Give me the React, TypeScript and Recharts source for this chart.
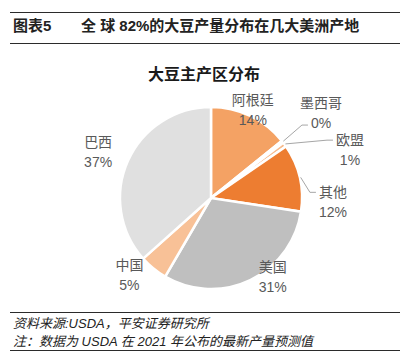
import React from 'react';
import { PieChart, Pie, Cell } from 'recharts';

const regions = ['阿根廷', '墨西哥', '欧盟', '其他', '美国', '中国', '巴西'];
const shares = [14.2, 0.4, 0.8, 12.0, 31.0, 5.0, 36.6];
const sliceColors = ['#F4A264', '#FADBC4', '#F7B98A', '#ED7D31', '#BFBFBF', '#F8C197', '#E0E0E0'];

const headerLabel = '图表5';
const headerTitle = '全 球 82%的大豆产量分布在几大美洲产地';
const chartTitle = '大豆主产区分布';
const sourceNote = '资料来源:USDA，平安证券研究所';
const footNote = '注：数据为 USDA 在 2021 年公布的最新产量预测值';

const data = regions.map((name, i) => ({ name, value: shares[i] }));

// label placement: radial distance and angle offset (deg, clockwise) from slice mid angle
const labelPlace: Record<string, { r: number; da: number; leader?: number }> = {
  '阿根廷': { r: 97, da: 0 },
  '墨西哥': { r: 139, da: 0.5, leader: 1 },
  '欧盟': { r: 147, da: 17, leader: 0 },
  '其他': { r: 122, da: 15, leader: 0 },
  '美国': { r: 100, da: -12.5 },
  '中国': { r: 112, da: 7.5 },
  '巴西': { r: 122, da: -1.8 },
};

const FONT = "'Liberation Sans', 'Noto Sans CJK SC', sans-serif";
const LABEL_COLOR = '#595959';

const textWidth = (s: string) => {
  let w = 0;
  for (const ch of s) {
    if (/[0-9]/.test(ch)) w += 7.8;
    else if (ch === '%') w += 12.4;
    else w += 14;
  }
  return w;
};

const renderLabel = (props: any) => {
  const { cx, cy, midAngle, outerRadius, index } = props;
  const name = regions[index];
  const pl = labelPlace[name];
  const rad = Math.PI / 180;
  const clock = 90 - midAngle;
  const la = (clock + pl.da) * rad;
  const lx = cx + pl.r * Math.sin(la);
  const ly = cy - pl.r * Math.cos(la);
  const pct = `${Math.round(shares[index])}%`;
  const lines = [name, pct];
  let leader: React.ReactNode = null;
  if (pl.leader !== undefined) {
    const ea = clock * rad;
    const sx = cx + (outerRadius + 1) * Math.sin(ea);
    const sy = cy - (outerRadius + 1) * Math.cos(ea);
    const lineY = pl.leader === 0 ? ly - 10 : ly + 12;
    const ex = lx - textWidth(lines[pl.leader]) / 2 - 3;
    const bx = ex - 6;
    leader = (
      <polyline
        points={`${sx},${sy} ${bx},${lineY} ${ex},${lineY}`}
        fill="none"
        stroke="#A6A6A6"
        strokeWidth={1}
      />
    );
  }
  return (
    <g key={`lab-${index}`}>
      {leader}
      <text
        x={lx}
        y={ly - 10}
        textAnchor="middle"
        dominantBaseline="central"
        fontSize={14}
        fontFamily={FONT}
        fill={LABEL_COLOR}
      >
        {name}
      </text>
      <text
        x={lx}
        y={ly + 10}
        textAnchor="middle"
        dominantBaseline="central"
        fontSize={14}
        fontFamily={FONT}
        fill={LABEL_COLOR}
      >
        {pct}
      </text>
    </g>
  );
};

const hLine = (top: number, h: number) => (
  <div style={{ position: 'absolute', left: 10, width: 390, top, height: h, background: '#2b2b2b' }} />
);

export default function App() {
  return (
    <div
      style={{
        position: 'absolute',
        left: 0,
        top: 0,
        width: 405,
        height: 362,
        background: '#fff',
        overflow: 'hidden',
        fontFamily: FONT,
      }}
    >
      {hLine(11.5, 1.6)}
      <div style={{ position: 'absolute', left: 13, top: 16, lineHeight: '20px', fontSize: 15, fontWeight: 'bold', color: '#222' }}>
        {headerLabel}
      </div>
      <div style={{ position: 'absolute', left: 81, top: 16, lineHeight: '20px', fontSize: 15, fontWeight: 'bold', color: '#222', whiteSpace: 'pre' }}>
        {headerTitle}
      </div>
      {hLine(43, 1)}
      <div style={{ position: 'absolute', left: 0, width: 408, textAlign: 'center', top: 65, lineHeight: '20px', fontSize: 16, fontWeight: 'bold', color: '#1a1a1a' }}>
        {chartTitle}
      </div>
      <div style={{ position: 'absolute', left: 0, top: 0 }}>
        <PieChart width={405} height={362}>
          <Pie
            data={data}
            dataKey="value"
            nameKey="name"
            cx={206}
            cy={193}
            outerRadius={91}
            startAngle={90}
            endAngle={-270}
            stroke="#ffffff"
            strokeWidth={2.5}
            label={renderLabel}
            labelLine={false}
            isAnimationActive={false}
          >
            {data.map((d, i) => (
              <Cell key={d.name} fill={sliceColors[i]} />
            ))}
          </Pie>
        </PieChart>
      </div>
      {hLine(311.5, 1)}
      <div style={{ position: 'absolute', left: 13, top: 314, lineHeight: '20px', fontSize: 13, fontStyle: 'italic', color: '#222' }}>
        {sourceNote}
      </div>
      <div style={{ position: 'absolute', left: 13, top: 332, lineHeight: '20px', fontSize: 13, fontStyle: 'italic', color: '#222', whiteSpace: 'pre' }}>
        {footNote}
      </div>
      {hLine(349.5, 1.6)}
    </div>
  );
}
